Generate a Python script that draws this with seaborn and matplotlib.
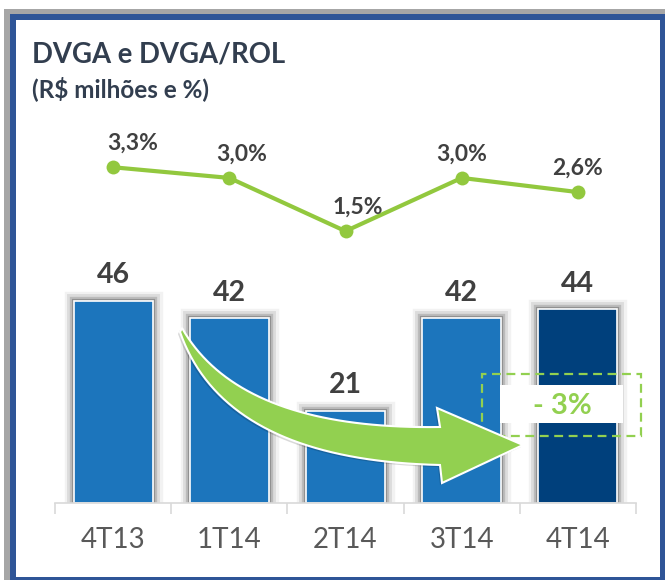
import numpy as np
import matplotlib
matplotlib.use("Agg")
import matplotlib.pyplot as plt
import matplotlib.patheffects as pe
from matplotlib.patches import Rectangle, Polygon
import seaborn as sns

# ---- data ----
categories = ["4T13", "1T14", "2T14", "3T14", "4T14"]
dvga = [46, 42, 21, 42, 44]
dvga_rol = [3.3, 3.0, 1.5, 3.0, 2.6]
title = "DVGA e DVGA/ROL"
subtitle = "(R$ milhões e %)"
change_label = "- 3%"

# ---- style ----
sns.set_theme(style="white")
plt.rcParams["font.family"] = ["Lato", "DejaVu Sans"]

W, H = 665, 580
fig = plt.figure(figsize=(W / 100, H / 100), dpi=100)
fig.patch.set_facecolor("white")

def fx(x):
    return x / W

def fy(y):
    return 1 - y / H

BAR_BLUE = "#1C75BC"
BAR_DARK = "#00407C"
GREEN_LINE = "#92C83E"
GREEN = "#92D050"
TXT = "#404040"
HEAD = "#323E4F"

ax_left, ax_right, ax_top, ax_bottom = 55, 636, 130, 503
ax = fig.add_axes([fx(ax_left), fy(ax_bottom), (ax_right - ax_left) / W, (ax_bottom - ax_top) / H])
ax.set_facecolor("none")

palette = [BAR_BLUE] * (len(categories) - 1) + [BAR_DARK]
sns.barplot(x=categories, y=dvga, hue=categories, palette=palette, legend=False,
            width=0.68, saturation=1, ax=ax, edgecolor="white", linewidth=1.2)
for p in ax.patches:
    p.set_path_effects([
        pe.Stroke(linewidth=14, foreground="#000000", alpha=0.05),
        pe.Stroke(linewidth=10, foreground="#000000", alpha=0.09),
        pe.Stroke(linewidth=6, foreground="#000000", alpha=0.15),
        pe.Stroke(linewidth=3, foreground="#000000", alpha=0.22),
        pe.Normal(),
    ])

ax.set_xlim(-0.5, len(categories) - 0.5)
ax.set_ylim(0, (ax_bottom - ax_top) / 4.4)
ax.set_yticks([])
ax.set_xlabel("")
ax.set_ylabel("")
for s in ["top", "left", "right"]:
    ax.spines[s].set_visible(False)
ax.spines["bottom"].set_color("#D9D9D9")
ax.spines["bottom"].set_linewidth(1.2)
ax.set_xticks(np.arange(-0.5, len(categories)), minor=True)
ax.tick_params(axis="x", which="minor", length=8, width=1.2, color="#D9D9D9", direction="out", bottom=True)
ax.tick_params(axis="x", which="major", length=0, pad=17, labelsize=20, labelcolor="#595959")

for i, v in enumerate(dvga):
    ax.annotate(f"{v}", (i, v), xytext=(0, 12.5), textcoords="offset points",
                ha="center", va="baseline", fontsize=20.5, fontweight="bold", color=TXT)

# ---- line on twin axis ----
ax2 = ax.twinx()
ax2.set_facecolor("none")
xs = np.arange(len(categories))
sns.lineplot(x=xs, y=dvga_rol, ax=ax2, color=GREEN_LINE, linewidth=3, marker="o",
             markersize=10, markeredgewidth=0, markerfacecolor=GREEN_LINE)
ax2.set_ylim(-6.16, 4.35)
ax2.set_yticks([])
ax2.set_ylabel("")
for s in ax2.spines.values():
    s.set_visible(False)
label_dx = [14, 9, 9, 0, 0]
for i, v in enumerate(dvga_rol):
    ax2.annotate(f"{v:.1f}%".replace(".", ","), (i, v), xytext=(label_dx[i], 12.5),
                 textcoords="offset points", ha="center", va="baseline",
                 fontsize=16.5, fontweight="bold", color=TXT)

# ---- titles ----
fig.text(fx(32), fy(63), title, fontsize=19.8, fontweight="bold", color=HEAD, va="baseline")
fig.text(fx(32), fy(97), subtitle, fontsize=17.5, fontweight="bold", color=HEAD, va="baseline")

# ---- frame ----
fig.add_artist(Rectangle((fx(4), fy(14)), 1, fy(9) - fy(14), transform=fig.transFigure,
                         facecolor="#A6A6A6", edgecolor="none", zorder=5))
fig.add_artist(Rectangle((fx(4), 0), fx(10) - fx(4), fy(9), transform=fig.transFigure,
                         facecolor="#A6A6A6", edgecolor="none", zorder=5))
BLUE = "#2F5597"
fig.add_artist(Rectangle((fx(10), fy(20)), 1, fy(14) - fy(20), transform=fig.transFigure,
                         facecolor=BLUE, edgecolor="none", zorder=6))
fig.add_artist(Rectangle((fx(10), 0), fx(16) - fx(10), fy(14), transform=fig.transFigure,
                         facecolor=BLUE, edgecolor="none", zorder=6))
fig.add_artist(Rectangle((fx(660), 0), 1, fy(14), transform=fig.transFigure,
                         facecolor=BLUE, edgecolor="none", zorder=6))
fig.add_artist(Rectangle((fx(10), 0), 1, fy(577), transform=fig.transFigure,
                         facecolor=BLUE, edgecolor="none", zorder=6))

# ---- change box ----
fig.add_artist(Rectangle((fx(500), fy(423)), fx(623) - fx(500), fy(385) - fy(423),
                         transform=fig.transFigure, facecolor="white", edgecolor="none", zorder=3))
fig.add_artist(Rectangle((fx(482), fy(436)), fx(641) - fx(482), fy(374) - fy(436),
                         transform=fig.transFigure, facecolor="none", edgecolor=GREEN,
                         linewidth=1.6, linestyle=(0, (4, 2.5)), zorder=3))
fig.text(fx(562), fy(406), change_label, fontsize=21, fontweight="bold", color=GREEN,
         ha="center", va="center", zorder=4)

# ---- curved arrow ----
def bez(p0, p1, p2, n=40):
    t = np.linspace(0, 1, n)[:, None]
    p0, p1, p2 = map(np.array, (p0, p1, p2))
    return (1 - t) ** 2 * p0 + 2 * (1 - t) * t * p1 + t ** 2 * p2

top = bez((182, 328), (240, 430), (440, 427))
bot = bez((180, 332), (225, 460), (440, 465))
head = np.array([(437, 408), (523, 445), (442, 483)])
pts = np.vstack([top, head, bot[::-1]])
figpts = np.column_stack([fx(pts[:, 0]), fy(pts[:, 1])])
shadow = figpts + np.array([fx(-2), -2 / H])
fig.add_artist(Polygon(shadow, closed=True, transform=fig.transFigure,
                       facecolor="#000000", alpha=0.15, edgecolor="none", zorder=4))
fig.add_artist(Polygon(figpts, closed=True, transform=fig.transFigure,
                       facecolor=GREEN, edgecolor="white", linewidth=1.5, zorder=4.5))

fig.savefig("out.png", dpi=100, facecolor="white")
